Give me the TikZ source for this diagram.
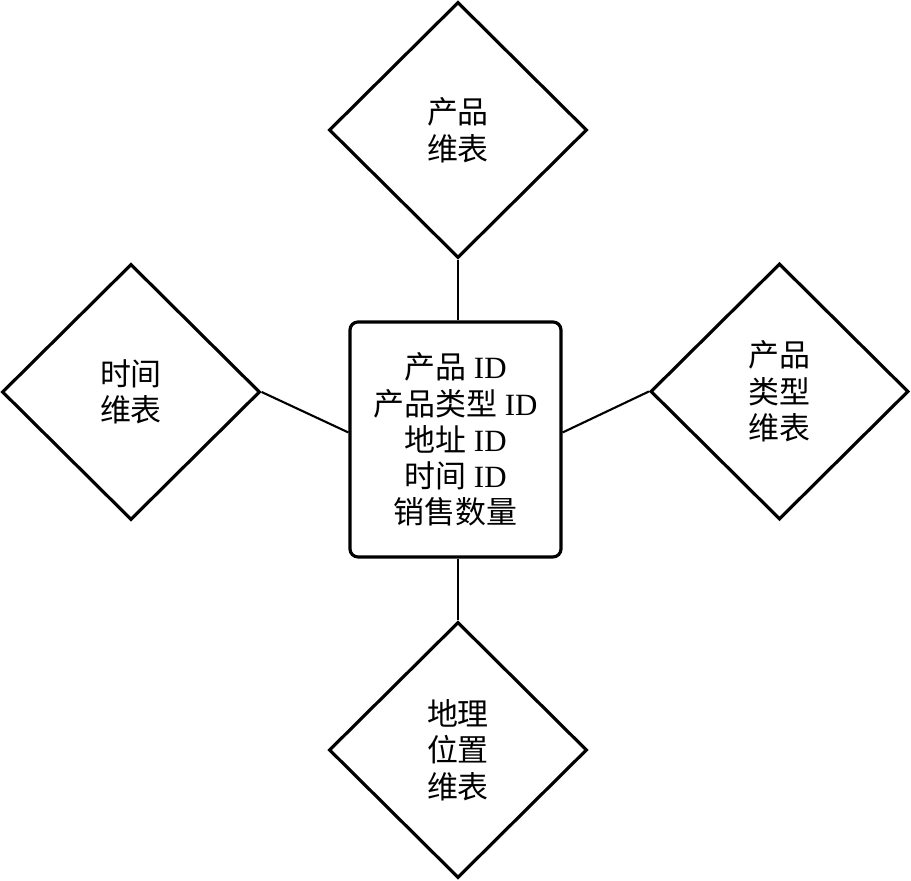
\documentclass[tikz,border=0pt]{standalone}
\usepackage{fontspec}
\setmainfont{Liberation Serif}
\newfontfamily\cjk{Noto Sans CJK SC}
\usetikzlibrary{shapes.geometric}

\begin{document}
\begin{tikzpicture}[
	dim/.style={diamond, draw, line width=0.9pt, inner sep=0pt, minimum width=2.58cm, minimum height=2.56cm, align=center, font=\fontsize{8.8}{10.4}\selectfont},
	fait/.style={draw, rounded corners=0.08cm, line width=0.9pt, minimum width=2.11cm, minimum height=2.35cm, align=center, font=\fontsize{8.8}{10.3}\selectfont}]

		\useasboundingbox (0,0) rectangle (9.11,8.81);
		\node [fait] (fact) at (4.555,4.415) {{\cjk 产品} ID\\{\cjk 产品类型} ID\\{\cjk 地址} ID\\{\cjk 时间} ID\\{\cjk 销售数量}};
		\node [dim] (prod) at (4.58,7.51) {\cjk 产品\\\cjk 维表};
		\node [dim] (time) at (1.31,4.89) {\cjk 时间\\\cjk 维表};
		\node [dim] (type) at (7.795,4.895) {\cjk 产品\\\cjk 类型\\\cjk 维表};
		\node [dim] (geo) at (4.58,1.31) {\cjk 地理\\\cjk 位置\\\cjk 维表};
		% liaisons
		\draw [line width=0.6pt] (prod.south) -- (prod.south |- fact.north);
		\draw [line width=0.6pt] (geo.north) -- (geo.north |- fact.south);
		\draw [line width=0.6pt] (time.east) -- ([yshift=0.07cm]fact.west);
		\draw [line width=0.6pt] (type.west) -- ([yshift=0.07cm]fact.east);
	\end{tikzpicture}
\end{document}
